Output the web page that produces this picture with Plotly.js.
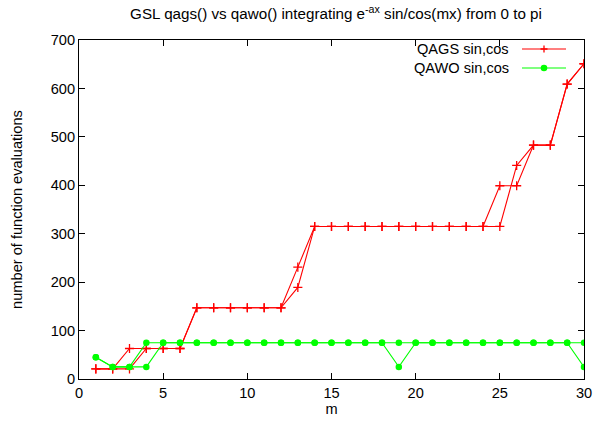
<!DOCTYPE html>
<html>
<head>
<meta charset="utf-8">
<script src="https://cdn.plot.ly/plotly-3.0.1.min.js"></script>
<style>html,body{margin:0;padding:0;background:#fff;}#chart{width:595px;height:423px;}</style>
</head>
<body>
<div id="chart"></div>
<script>
var m = [1,2,3,4,5,6,7,8,9,10,11,12,13,14,15,16,17,18,19,20,21,22,23,24,25,26,27,28,29,30];
var qagsSin = [21,21,63,63,63,63,147,147,147,147,147,147,231,315,315,315,315,315,315,315,315,315,315,315,399,399,483,483,609,651];
var qagsCos = [21,21,21,63,63,63,147,147,147,147,147,147,189,315,315,315,315,315,315,315,315,315,315,315,315,441,483,483,609,651];
var qawoSin = [45,25,25,75,75,75,75,75,75,75,75,75,75,75,75,75,75,75,25,75,75,75,75,75,75,75,75,75,75,75];
var qawoCos = [45,25,25,25,75,75,75,75,75,75,75,75,75,75,75,75,75,75,75,75,75,75,75,75,75,75,75,75,75,25];
var seriesNames = ['QAGS sin,cos', 'QAWO sin,cos'];
var xTicks = [0,5,10,15,20,25,30];
var yTicks = [0,100,200,300,400,500,600,700];

var RED = '#ff0000', GREEN = '#00ff00';
var FONT = 'Liberation Sans, Arial, sans-serif';
var FS = 14.6;

function joined(a, b){ return a.concat([null], b); }

var traces = [
  {x: joined(m, m), y: joined(qagsSin, qagsCos), name: seriesNames[0], mode: 'lines+markers',
   line: {color: RED, width: 1.1},
   marker: {symbol: 'cross-thin', size: 6.5, color: RED, line: {color: RED, width: 1.3}}},
  {x: joined(m, m), y: joined(qawoSin, qawoCos), name: seriesNames[1], mode: 'lines+markers',
   line: {color: GREEN, width: 1.1},
   marker: {symbol: 'circle', size: 6.5, color: GREEN}}
];

// plot area in pixels
var L = 79, R = 584, T = 40, B = 379;
function px(xp){ return (xp - L) / (R - L); }
function py(yp){ return (B - yp) / (B - T); }

var legRows = [49, 68];
var annotations = seriesNames.map(function(n, i){
  return {text: n, xref: 'paper', yref: 'paper', x: px(511), y: py(legRows[i]),
          xanchor: 'right', yanchor: 'middle', showarrow: false,
          font: {family: FONT, size: FS, color: '#000'}};
});
var shapes = [];
[RED, GREEN].forEach(function(c, i){
  shapes.push({type: 'line', xref: 'paper', yref: 'paper', x0: px(522), x1: px(566),
               y0: py(legRows[i]), y1: py(legRows[i]), line: {color: c, width: 1.1}});
});
// legend marker samples
shapes.push({type: 'path', xref: 'paper', yref: 'paper', xsizemode: 'pixel', ysizemode: 'pixel',
             xanchor: px(544), yanchor: py(legRows[0]),
             path: 'M-3.5,0 L3.5,0 M0,-3.5 L0,3.5', line: {color: RED, width: 1.3}});
shapes.push({type: 'circle', xref: 'paper', yref: 'paper', xsizemode: 'pixel', ysizemode: 'pixel',
             xanchor: px(544), yanchor: py(legRows[1]), x0: -3.3, x1: 3.3, y0: -3.3, y1: 3.3,
             fillcolor: GREEN, line: {color: GREEN, width: 0}});

var axisCommon = {showline: true, linecolor: '#000', linewidth: 1, mirror: 'ticks',
                  ticks: 'inside', ticklen: 6, tickcolor: '#000', tickwidth: 1,
                  showgrid: false, zeroline: false,
                  tickfont: {family: FONT, size: FS, color: '#000'}};

var layout = {
  width: 595, height: 423,
  margin: {l: L, r: 595 - R, t: T, b: 423 - B},
  paper_bgcolor: '#fff', plot_bgcolor: '#fff',
  showlegend: false,
  title: {text: 'GSL qags() vs qawo() integrating e<sup>-ax</sup> sin/cos(mx) from 0 to pi',
          font: {family: FONT, size: 15.2, color: '#000'}, xref: 'container', x: 336 / 595, xanchor: 'center',
          yref: 'container', y: 1 - 14 / 423, yanchor: 'middle'},
  xaxis: Object.assign({}, axisCommon, {range: [0, 30], tickvals: xTicks, ticktext: xTicks.map(String),
          title: {text: 'm', font: {family: FONT, size: FS, color: '#000'}, standoff: 4}}),
  yaxis: Object.assign({}, axisCommon, {range: [0, 700], tickvals: yTicks, ticktext: yTicks.map(String),
          title: {text: 'number of function evaluations', font: {family: FONT, size: FS, color: '#000'}, standoff: 24}}),
  annotations: annotations,
  shapes: shapes
};

Plotly.newPlot('chart', traces, layout, {displayModeBar: false, staticPlot: true});
</script>
</body>
</html>
